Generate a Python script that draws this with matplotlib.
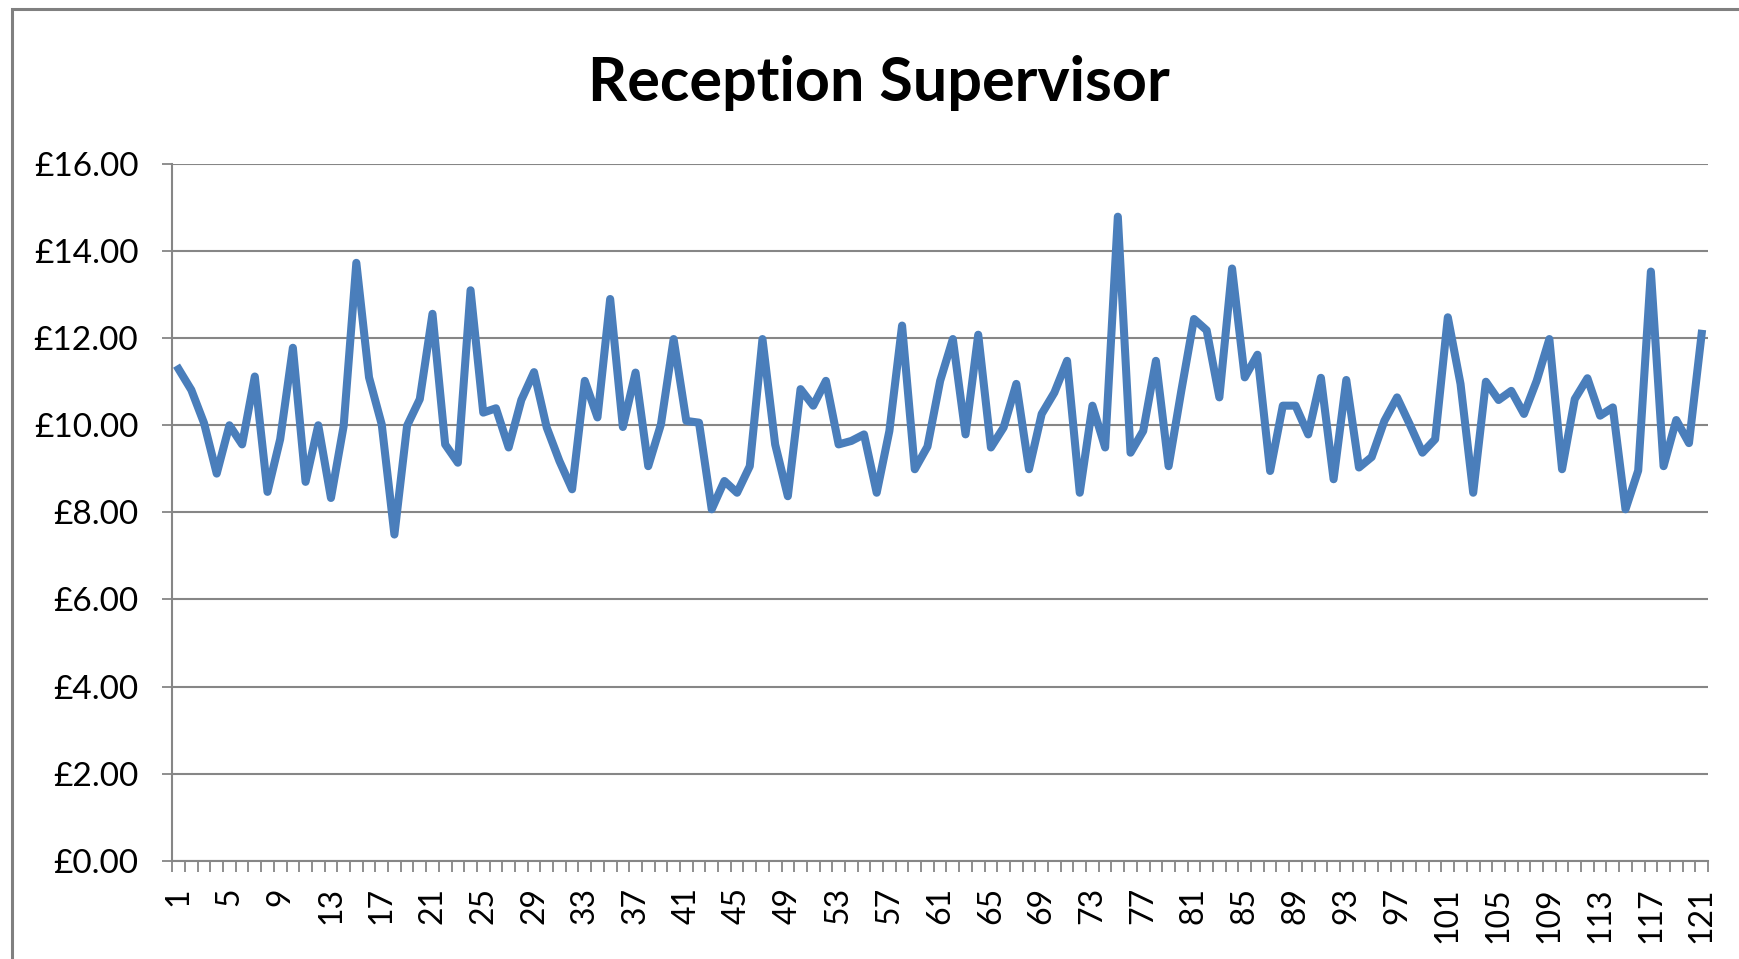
import matplotlib
matplotlib.use('Agg')
import matplotlib.pyplot as plt
from matplotlib.patches import Rectangle
from matplotlib.ticker import FuncFormatter

# hourly rates, one per job advert
points = list(range(1, 122))
rates = [
    11.29, 10.81, 10.05, 8.89, 10.00, 9.56, 11.12, 8.47, 9.68, 11.78,
    8.70, 10.00, 8.33, 9.98, 13.73, 11.10, 10.02, 7.49, 9.99, 10.60,
    12.56, 9.56, 9.14, 13.10, 10.29, 10.39, 9.49, 10.58, 11.22, 9.95,
    9.18, 8.53, 11.02, 10.18, 12.90, 9.96, 11.21, 9.06, 10.02, 11.98,
    10.10, 10.06, 8.07, 8.72, 8.45, 9.06, 11.98, 9.56, 8.37, 10.83,
    10.45, 11.02, 9.56, 9.64, 9.79, 8.45, 9.87, 12.29, 8.99, 9.51,
    11.02, 11.98, 9.79, 12.08, 9.49, 9.95, 10.95, 8.99, 10.26, 10.75,
    11.48, 8.45, 10.45, 9.49, 14.79, 9.37, 9.87, 11.48, 9.06, 10.79,
    12.44, 12.18, 10.64, 13.60, 11.10, 11.62, 8.95, 10.45, 10.45, 9.79,
    11.09, 8.76, 11.04, 9.03, 9.27, 10.10, 10.64, 10.02, 9.37, 9.68,
    12.48, 10.95, 8.45, 11.00, 10.58, 10.79, 10.26, 11.02, 11.98, 8.99,
    10.60, 11.08, 10.22, 10.41, 8.07, 8.96, 13.53, 9.06, 10.12, 9.59,
    12.10,
]
label_points = points[::4]
y_ticks = [0, 2, 4, 6, 8, 10, 12, 14, 16]

plt.rcParams['font.family'] = ['Lato', 'DejaVu Sans']

W, H = 1740, 959
fig = plt.figure(figsize=(W / 100, H / 100), dpi=100)
ax = fig.add_axes([172.3 / W, 1 - 860.7 / H, (1708 - 172.3) / W, (860.7 - 164) / H])

grey = '#868686'
ax.plot(points, rates, color='#4A7EBB', lw=5.8, solid_joinstyle='round', zorder=3)

ax.set_xlim(0.5, 121.5)
ax.set_ylim(0, 16)
ax.set_yticks(y_ticks)
ax.yaxis.set_major_formatter(FuncFormatter(lambda v, p: '£%.2f' % v))
ax.grid(axis='y', color=grey, lw=1.5)
ax.set_axisbelow(True)

ax.set_xticks(label_points)
ax.set_xticklabels([str(p) for p in label_points], rotation=90, va='top', ha='center')
ax.set_xticks([p - 0.5 for p in points] + [121.5], minor=True)
ax.tick_params(axis='x', which='major', length=0, pad=19, labelsize=23, labelcolor='#000000')
ax.tick_params(axis='x', which='minor', length=8, width=1.3, color=grey, direction='out')
ax.tick_params(axis='y', length=7.5, width=1.3, color=grey, pad=17, labelsize=24)

for s in ['top', 'right']:
    ax.spines[s].set_visible(False)
for s in ['left', 'bottom']:
    ax.spines[s].set_color(grey)
    ax.spines[s].set_linewidth(1.5)

fig.text(879 / W, 1 - 83 / H, 'Reception Supervisor', ha='center', va='center',
         fontsize=44, fontweight='bold')

# chart frame, partly cut off on the right and bottom
fig.patches.append(Rectangle((12 / W, -0.05), 1.1, 1.05 - 9 / H, transform=fig.transFigure,
                             fill=False, edgecolor='#808080', lw=2.2))

fig.savefig('out.png', dpi=100, facecolor='white')
